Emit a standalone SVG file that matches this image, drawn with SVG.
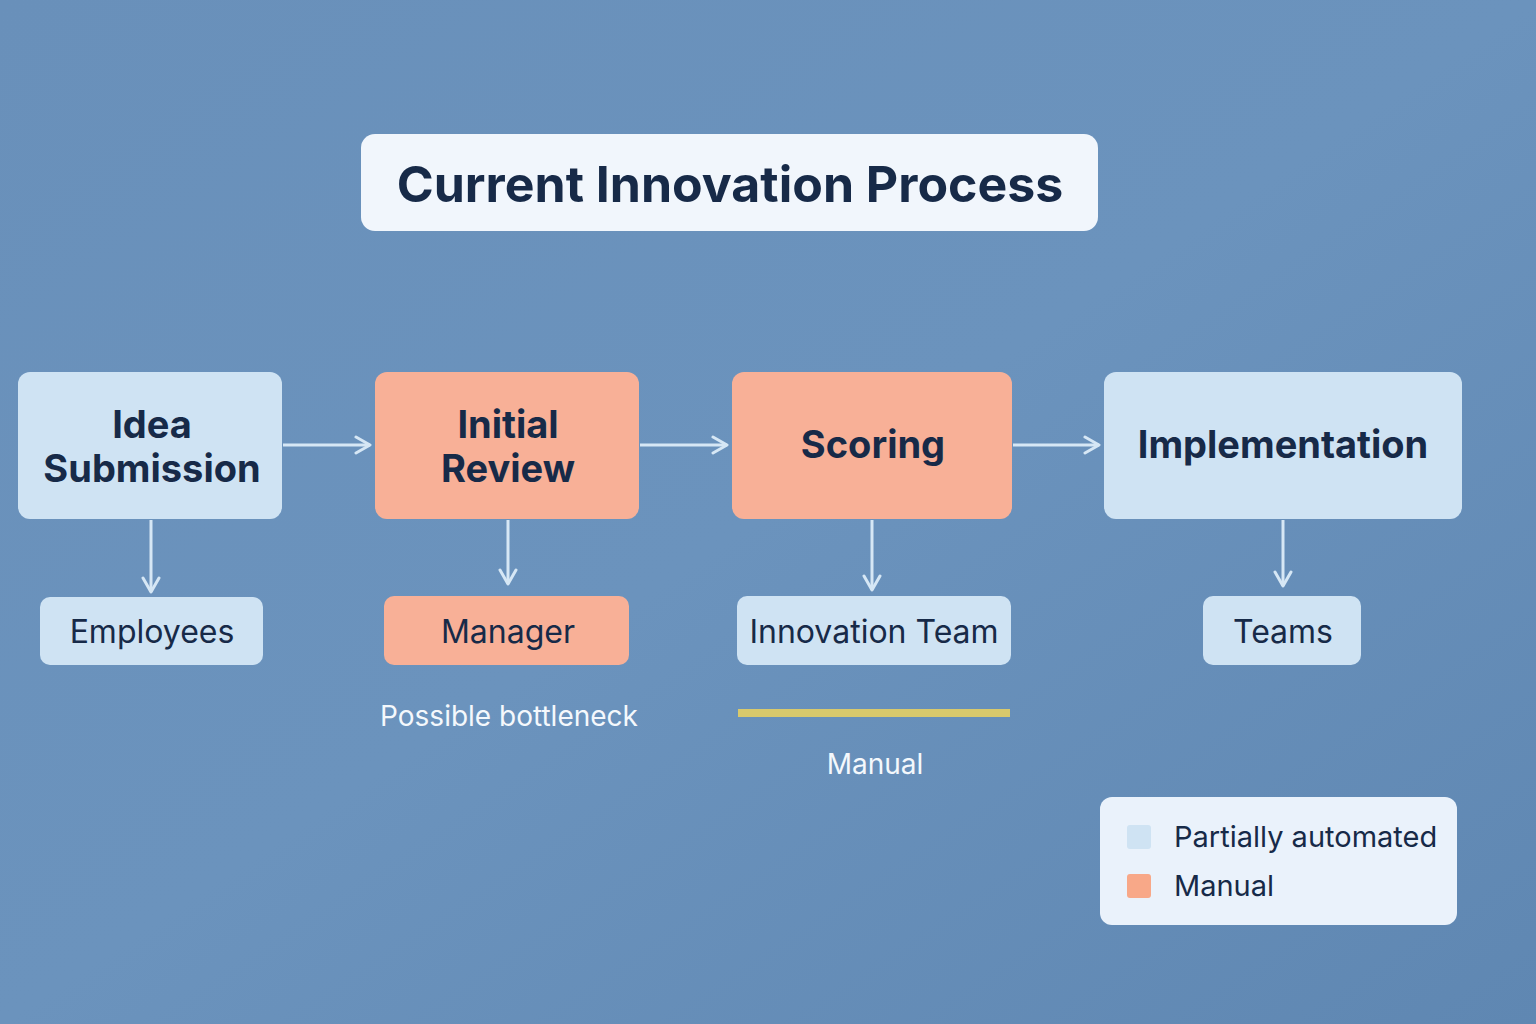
<svg xmlns="http://www.w3.org/2000/svg" width="1536" height="1024" viewBox="0 0 1536 1024">
<defs>
<linearGradient id="bg" x1="0" y1="0" x2="1" y2="1">
<stop offset="0" stop-color="#6990ba"/><stop offset="0.5" stop-color="#6b93bd"/><stop offset="1" stop-color="#5f87b2"/>
</linearGradient>
<marker id="ah" viewBox="0 0 20 20" refX="17" refY="10" markerWidth="20" markerHeight="20" markerUnits="userSpaceOnUse" orient="auto">
<path d="M3 2 L17 10 L3 18" fill="none" stroke="#d6e7f5" stroke-width="3" stroke-linecap="round" stroke-linejoin="round"/>
</marker>
<style>
.lt{fill:#cfe3f3}
.sa{fill:#f8b097}
.t{font-family:Inter,"Liberation Sans",sans-serif;fill:#172a48;text-anchor:middle}
.b{font-weight:700;font-size:38px}
.s{font-size:32px}
.w{font-family:Inter,"Liberation Sans",sans-serif;fill:#f4f8fc;text-anchor:middle;font-size:28px}
.c{stroke:#d6e7f5;stroke-width:3;fill:none;marker-end:url(#ah)}
</style>
</defs>
<rect width="1536" height="1024" fill="url(#bg)"/>
<g id="title"><rect x="361" y="134" width="737" height="97" rx="14" fill="#f1f6fc"/><text x="730" y="202" class="t" font-weight="700" font-size="50">Current Innovation Process</text></g>
<g id="connectors">
<path class="c" d="M283 445 H370"/>
<path class="c" d="M640 445 H727"/>
<path class="c" d="M1013 445 H1099"/>
<path class="c" d="M151 520 V592"/>
<path class="c" d="M508 520 V584"/>
<path class="c" d="M872 520 V590"/>
<path class="c" d="M1283 520 V586"/>
</g>
<g id="idea"><rect class="lt" x="18" y="372" width="264" height="147" rx="12"/><text class="t b" x="152" y="438">Idea</text><text class="t b" x="152" y="482">Submission</text></g>
<g id="review"><rect class="sa" x="375" y="372" width="264" height="147" rx="12"/><text class="t b" x="508" y="438">Initial</text><text class="t b" x="508" y="482">Review</text></g>
<g id="scoring"><rect class="sa" x="732" y="372" width="280" height="147" rx="12"/><text class="t b" x="873" y="458">Scoring</text></g>
<g id="implementation"><rect class="lt" x="1104" y="372" width="358" height="147" rx="12"/><text class="t b" x="1283" y="458">Implementation</text></g>
<g id="employees"><rect class="lt" x="40" y="597" width="223" height="68" rx="10"/><text class="t s" x="152" y="643">Employees</text></g>
<g id="manager"><rect class="sa" x="384" y="596" width="245" height="69" rx="10"/><text class="t s" x="508" y="643">Manager</text></g>
<g id="innovteam"><rect class="lt" x="737" y="596" width="274" height="69" rx="10"/><text class="t s" x="874" y="643">Innovation Team</text></g>
<g id="teams"><rect class="lt" x="1203" y="596" width="158" height="69" rx="10"/><text class="t s" x="1283" y="643">Teams</text></g>
<text class="w" x="509" y="726">Possible bottleneck</text>
<rect x="738" y="709" width="272" height="8" fill="#d8c96c"/>
<text class="w" x="875" y="774">Manual</text>
<g id="legend"><rect x="1100" y="797" width="357" height="128" rx="12" fill="#eaf2fb"/>
<rect x="1127" y="825" width="24" height="24" rx="3" fill="#cfe3f3"/>
<rect x="1127" y="874" width="24" height="24" rx="3" fill="#f8a888"/>
<text x="1174" y="847" font-family="Inter,'Liberation Sans',sans-serif" font-size="29" fill="#172a48">Partially automated</text>
<text x="1174" y="896" font-family="Inter,'Liberation Sans',sans-serif" font-size="29" fill="#172a48">Manual</text></g>
</svg>
